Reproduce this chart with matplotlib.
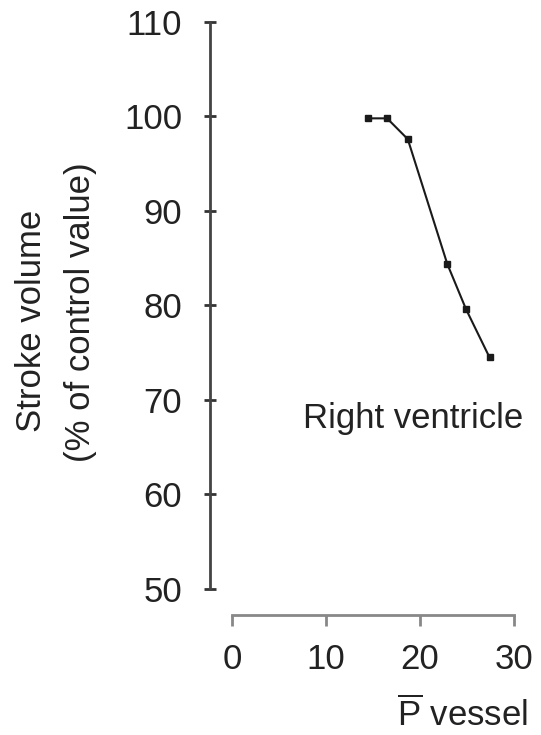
import matplotlib
matplotlib.use("Agg")
import matplotlib.pyplot as plt

plt.rcParams['font.family'] = ['Liberation Sans', 'DejaVu Sans']
plt.rcParams['mathtext.fontset'] = 'custom'
plt.rcParams['mathtext.rm'] = 'Liberation Sans'

pressure = [14.5, 16.5, 18.7, 22.9, 24.9, 27.4]
stroke_volume = [99.8, 99.8, 97.6, 84.4, 79.6, 74.5]
x_ticks = [0, 10, 20, 30]
y_ticks = [50, 60, 70, 80, 90, 100, 110]

FS = 25
TXT = '#222222'

fig = plt.figure(figsize=(5.41, 7.35), dpi=100)
ax = fig.add_axes([210/541, 120/735, (523.4-210)/541, (615-12.5)/735])
ax.set_xlim(-2.34, 31)
ax.set_ylim(47.25, 111)

ax.plot(pressure, stroke_volume, color='#1a1a1a', lw=1.5, marker='s', ms=4.5)

for s in ['top', 'right']:
    ax.spines[s].set_visible(False)
ax.spines['left'].set_bounds(50, 110)
ax.spines['bottom'].set_bounds(0, 30)
ax.spines['left'].set_color('#444444')
ax.spines['bottom'].set_color('#888888')
ax.spines['left'].set_linewidth(2)
ax.spines['bottom'].set_linewidth(2)

ax.set_xticks(x_ticks)
ax.set_yticks(y_ticks)
ax.tick_params(axis='y', direction='inout', length=8, width=2, color='#333333',
               labelsize=FS, labelcolor=TXT, pad=16)
ax.tick_params(axis='x', direction='out', length=8, width=2, color='#888888',
               labelsize=FS, labelcolor=TXT, pad=12)

ax.text(7.55, 67.04, 'Right ventricle', fontsize=FS, color=TXT, ha='left', va='baseline')

fig.text(32/541, 1 - 321/735, 'Stroke volume', rotation=90, fontsize=FS,
         color=TXT, ha='center', va='center')
fig.text(81/541, 1 - 312/735, '(% of control value)', rotation=90, fontsize=FS,
         color=TXT, ha='center', va='center')
fig.text(397/541, 1 - 726/735, r'$\overline{\mathrm{P}}$ vessel', fontsize=FS,
         color=TXT, ha='left', va='baseline')

fig.savefig('out.png', dpi=100)
